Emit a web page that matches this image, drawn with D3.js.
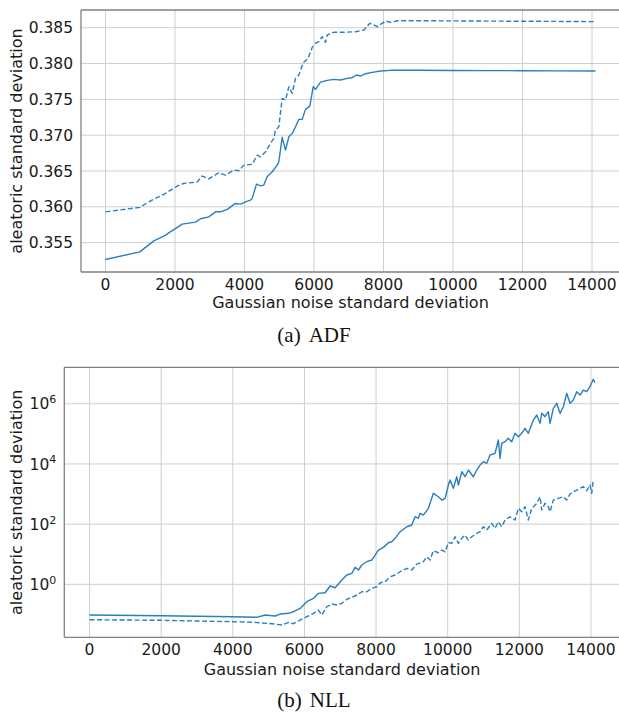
<!DOCTYPE html>
<html>
<head>
<meta charset="utf-8">
<script src="https://cdn.jsdelivr.net/npm/d3@7"></script>
<style>
  html, body { margin: 0; padding: 0; background: #fff; }
  svg { display: block; }
</style>
</head>
<body>
<svg id="chart" width="619" height="714"></svg>
<script>
// ---------- DATA ----------
const xTicks = [0, 2000, 4000, 6000, 8000, 10000, 12000, 14000];
const adfYTicks = [0.355, 0.360, 0.365, 0.370, 0.375, 0.380, 0.385];
const nllYTicks = [1, 100, 10000, 1000000];
const nllYTickExp = ["0", "2", "4", "6"];

const adfSolidX = [0, 987, 1390, 1678, 2207, 2590, 2734, 2973, 3165, 3309, 3502, 3741, 3885, 4029, 4173, 4221, 4345, 4460, 4556, 4652, 4796, 4940, 4988, 5084, 5180, 5276, 5372, 5468, 5564, 5660, 5755, 5880, 5977, 6043, 6187, 6379, 6570, 6763, 6955, 7099, 7223, 7338, 7482, 7674, 7914, 8201, 9000, 10000, 11000, 12000, 13000, 14100];
const adfSolidY = [0.35265, 0.35371, 0.35525, 0.35591, 0.35758, 0.35786, 0.35833, 0.3586, 0.3593, 0.3593, 0.35964, 0.36047, 0.36038, 0.3607, 0.36094, 0.36117, 0.36317, 0.36293, 0.36303, 0.36419, 0.36489, 0.36582, 0.36629, 0.3697, 0.36792, 0.36978, 0.37025, 0.37117, 0.3722, 0.3722, 0.3736, 0.37406, 0.37676, 0.3764, 0.3774, 0.37765, 0.37779, 0.3777, 0.37793, 0.37802, 0.3784, 0.37825, 0.37858, 0.37877, 0.37895, 0.37905, 0.37905, 0.37903, 0.37901, 0.379, 0.37898, 0.37895];

const adfDashX = [0, 987, 1295, 1678, 2063, 2254, 2638, 2782, 2973, 3261, 3453, 3693, 3837, 3981, 4221, 4365, 4460, 4604, 4748, 4844, 4892, 4988, 5084, 5180, 5276, 5372, 5468, 5564, 5689, 5822, 5948, 6043, 6139, 6235, 6331, 6379, 6570, 6858, 7194, 7434, 7607, 7722, 7818, 7962, 8058, 8201, 8393, 9000, 10000, 11000, 12000, 13000, 14100];
const adfDashY = [0.3593, 0.35992, 0.36084, 0.36173, 0.36289, 0.36327, 0.36345, 0.36429, 0.3639, 0.36475, 0.36443, 0.36513, 0.36503, 0.36582, 0.36592, 0.36722, 0.36698, 0.36768, 0.36885, 0.36955, 0.37071, 0.37117, 0.37514, 0.3749, 0.37676, 0.37584, 0.37793, 0.3784, 0.38011, 0.38065, 0.38225, 0.38282, 0.38304, 0.38374, 0.38296, 0.38398, 0.38436, 0.38436, 0.38444, 0.38468, 0.38561, 0.38538, 0.38514, 0.38561, 0.38594, 0.38575, 0.38597, 0.38597, 0.38595, 0.38592, 0.3859, 0.38588, 0.38584];

const nllSolidX = [0, 2000, 4000, 4670, 4904, 5183, 5323, 5556, 5693, 5880, 6067, 6252, 6391, 6578, 6717, 6857, 7044, 7183, 7323, 7415, 7507, 7602, 7741, 7881, 7973, 8065, 8205, 8344, 8439, 8531, 8671, 8858, 8997, 9089, 9182, 9229, 9321, 9461, 9600, 9740, 9835, 9927, 10019, 10066, 10158, 10253, 10298, 10393, 10485, 10577, 10716, 10811, 10903, 10996, 11090, 11182, 11322, 11414, 11461, 11509, 11601, 11693, 11788, 11880, 11972, 12067, 12159, 12251, 12391, 12486, 12578, 12625, 12718, 12810, 12857, 12950, 13044, 13136, 13228, 13323, 13415, 13507, 13602, 13694, 13786, 13881, 13973, 14065, 14112];
const nllSolidY = [0.0955, 0.0906, 0.0839, 0.0802, 0.0955, 0.0885, 0.103, 0.109, 0.123, 0.158, 0.264, 0.343, 0.502, 0.526, 0.879, 0.771, 1.39, 2.04, 2.32, 3.67, 2.99, 4.38, 5.64, 6.41, 9.40, 13.8, 16.9, 24.1, 26.0, 33.7, 56.0, 82.0, 93.3, 176, 156, 229, 200, 335, 1054, 813, 631, 719, 1991, 2917, 1545, 3758, 1991, 5508, 3758, 6266, 3758, 6266, 9183, 11830, 10470, 19770, 22490, 62230, 15350, 48310, 54700, 70790, 54700, 104000, 80170, 104000, 152400, 104000, 287100, 421700, 223400, 479700, 369800, 542000, 223400, 703100, 1030000, 479700, 794300, 2218000, 1030000, 1327000, 2506000, 1945000, 2851000, 2506000, 3673000, 6471000, 4989000];

const nllDashX = [0, 2000, 4000, 4600, 5090, 5370, 5556, 5690, 5880, 6067, 6252, 6391, 6486, 6625, 6765, 6904, 7044, 7183, 7323, 7462, 7602, 7741, 7881, 8020, 8113, 8252, 8392, 8531, 8671, 8858, 8997, 9137, 9321, 9416, 9508, 9600, 9740, 9835, 9927, 10019, 10113, 10206, 10298, 10393, 10485, 10577, 10672, 10811, 10903, 10996, 11090, 11229, 11322, 11414, 11509, 11601, 11741, 11880, 11972, 12067, 12159, 12251, 12346, 12486, 12578, 12625, 12718, 12810, 12857, 12950, 13089, 13228, 13323, 13415, 13507, 13602, 13694, 13786, 13881, 13973, 14020, 14065];
const nllDashY = [0.0667, 0.0637, 0.0573, 0.0546, 0.0491, 0.0445, 0.0546, 0.0491, 0.0646, 0.0839, 0.109, 0.140, 0.0955, 0.180, 0.222, 0.205, 0.234, 0.318, 0.370, 0.442, 0.568, 0.568, 0.736, 0.832, 1.13, 1.22, 1.79, 2.04, 2.62, 3.40, 2.99, 4.72, 5.64, 8.26, 6.41, 13.1, 11.2, 13.8, 12.0, 24.5, 23.0, 38.1, 23.0, 33.7, 43.4, 29.6, 38.1, 49.4, 56.0, 82.0, 63.7, 106, 72.4, 120, 82.0, 137, 176, 137, 335, 258, 378, 137, 335, 491, 813, 294, 491, 378, 258, 631, 719, 813, 631, 1000, 1194, 1358, 1545, 1750, 1288, 1991, 1054, 2917];

const xLabel = "Gaussian noise standard deviation";
const yLabel = "aleatoric standard deviation";
const captionA = ["(a)", "ADF"];
const captionB = ["(b)", "NLL"];

// ---------- DRAW ----------
const svg = d3.select("#chart");
const color = "#2a7fbc";
const gridColor = "#cfcfcf";
const spineColor = "#808080";
const tickFont = "DejaVu Sans";
const textColor = "#1a1a1a";

function panel(opts) {
  const { left, right, top, bottom, xScale, yScale, yTicks, yFormat, series, xlabelY, ylabelX, tickLabelY } = opts;
  const g = svg.append("g");
  // grid
  g.selectAll(".vg").data(xTicks).join("line")
    .attr("x1", d => xScale(d)).attr("x2", d => xScale(d))
    .attr("y1", top).attr("y2", bottom)
    .attr("stroke", gridColor).attr("stroke-width", 1);
  g.selectAll(".hg").data(yTicks).join("line")
    .attr("x1", left).attr("x2", right)
    .attr("y1", d => yScale(d)).attr("y2", d => yScale(d))
    .attr("stroke", gridColor).attr("stroke-width", 1);
  // lines
  series.forEach(s => {
    const pts = s.x.map((v, i) => [v, s.y[i]]);
    g.append("path").datum(pts)
      .attr("fill", "none")
      .attr("stroke", color)
      .attr("stroke-width", 1.4)
      .attr("stroke-linejoin", "round")
      .attr("stroke-dasharray", s.dash || null)
      .attr("d", d3.line().x(d => xScale(d[0])).y(d => yScale(d[1])));
  });
  // spines
  g.append("line").attr("x1", left).attr("x2", left).attr("y1", top).attr("y2", bottom)
    .attr("stroke", spineColor).attr("stroke-width", 1.3);
  g.append("line").attr("x1", left).attr("x2", right).attr("y1", bottom).attr("y2", bottom)
    .attr("stroke", spineColor).attr("stroke-width", 1.3);
  g.append("line").attr("x1", left).attr("x2", right).attr("y1", top).attr("y2", top)
    .attr("stroke", spineColor).attr("stroke-width", 1.3);
  g.append("line").attr("x1", right).attr("x2", right).attr("y1", top).attr("y2", bottom)
    .attr("stroke", spineColor).attr("stroke-width", 1.3);
  // x tick labels
  g.selectAll(".xt").data(xTicks).join("text")
    .attr("x", d => xScale(d)).attr("y", tickLabelY)
    .attr("text-anchor", "middle")
    .attr("font-family", tickFont).attr("font-size", 15.5).attr("fill", textColor)
    .text(d => d3.format("d")(d));
  // y tick labels
  const yt = g.selectAll(".yt").data(yTicks).join("text")
    .attr("x", left - 8).attr("y", d => yScale(d))
    .attr("dy", "0.36em")
    .attr("text-anchor", "end")
    .attr("font-family", tickFont).attr("font-size", 15.5).attr("fill", textColor);
  yFormat(yt);
  // axis labels
  g.append("text").attr("x", (left + right) / 2).attr("y", xlabelY)
    .attr("text-anchor", "middle")
    .attr("font-family", tickFont).attr("font-size", 16).attr("fill", textColor)
    .text(xLabel);
  g.append("text")
    .attr("transform", `translate(${ylabelX},${(top + bottom) / 2}) rotate(-90)`)
    .attr("text-anchor", "middle")
    .attr("font-family", tickFont).attr("font-size", 16).attr("fill", textColor)
    .text(yLabel);
}

// Panel (a)
const ax = d3.scaleLinear().domain([-705, 14805]).range([81, 620]);
const ay = d3.scaleLinear().domain([0.3509, 0.38747]).range([272, 10]);
panel({
  left: 81, right: 620, top: 10, bottom: 272,
  xScale: ax, yScale: ay, yTicks: adfYTicks,
  yFormat: sel => sel.text(d => d3.format(".3f")(d)),
  series: [{ x: adfSolidX, y: adfSolidY }, { x: adfDashX, y: adfDashY, dash: "5,2.5" }],
  tickLabelY: 290, xlabelY: 307.5, ylabelX: 22
});

// Panel (b)
const bx = d3.scaleLinear().domain([-705, 14805]).range([64.3, 619.8]);
const by = d3.scaleLog().domain([Math.pow(10, -1.76), Math.pow(10, 7.21)]).range([637.3, 367.3]);
panel({
  left: 64.3, right: 619.8, top: 367.3, bottom: 637.3,
  xScale: bx, yScale: by, yTicks: nllYTicks,
  yFormat: sel => {
    sel.each(function(d, i) {
      const t = d3.select(this);
      t.append("tspan").text("10");
      t.append("tspan").attr("dy", "-0.55em").attr("font-size", 11).text(nllYTickExp[i]);
    });
  },
  series: [{ x: nllSolidX, y: nllSolidY }, { x: nllDashX, y: nllDashY, dash: "5,2.5" }],
  tickLabelY: 655, xlabelY: 675, ylabelX: 22
});

// captions
function caption(parts, y) {
  const t = svg.append("text").attr("x", 314).attr("y", y)
    .attr("text-anchor", "middle")
    .attr("font-family", "Liberation Serif, Times New Roman, serif")
    .attr("font-size", 21).attr("fill", "#111");
  t.append("tspan").text(parts[0]);
  t.append("tspan").attr("dx", 8).text(parts[1]);
}
caption(captionA, 342);
caption(captionB, 707);
</script>
</body>
</html>
